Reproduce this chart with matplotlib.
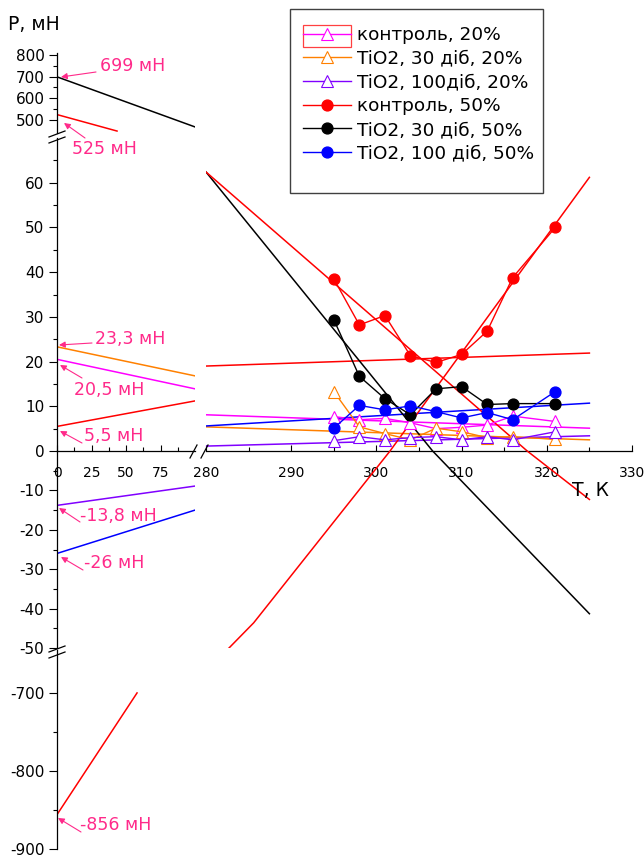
import numpy as np
import matplotlib
matplotlib.use('Agg')
import matplotlib.pyplot as plt
from matplotlib.lines import Line2D
from matplotlib.patches import Rectangle
from matplotlib.ticker import FixedLocator

plt.rcParams['font.family'] = ['DejaVu Sans']
plt.rcParams['axes.unicode_minus'] = False

# measured temperatures, K
T = [295, 298, 301, 304, 307, 310, 313, 316, 321]
p_ctrl_20 = [7.7, 7.0, 7.3, 6.3, 5.0, 5.3, 5.8, 7.8, 6.6]
p_tio30_20 = [13.3, 5.4, 3.9, 2.5, 5.1, 4.3, 3.0, 3.2, 2.6]
p_tio100_20 = [2.3, 3.2, 2.5, 3.0, 3.2, 2.5, 3.2, 2.5, 4.3]
p_ctrl_50 = [38.5, 28.2, 30.3, 21.3, 19.8, 21.6, 26.8, 38.8, 50.0]
p_tio30_50 = [29.4, 16.7, 11.7, 8.1, 13.9, 14.4, 10.4, 10.6, 10.6]
p_tio100_50 = [5.1, 10.2, 9.2, 10.1, 8.8, 7.4, 8.6, 7.0, 13.3]

labels = ['контроль, 20%', 'TiO2, 30 діб, 20%', 'TiO2, 100діб, 20%',
          'контроль, 50%', 'TiO2, 30 діб, 50%', 'TiO2, 100 діб, 50%']

# fitted lines, extrapolated part (T from 0)
fit_left = [
    ([0, 100], [23.3, 16.8], '#ff8000'),
    ([0, 100], [20.5, 13.9], '#ff00ff'),
    ([0, 100], [5.5, 11.2], '#ff0000'),
    ([0, 100], [-13.8, -8.9], '#8000ff'),
    ([0, 100], [-26.0, -15.0], '#0000ff'),
    ([0, 100], [699, 468], 'black'),
    ([0, 43.5], [525, 449], '#ff0000'),
    ([0, 58], [-856, -700], '#ff0000'),
]
# fitted lines, measured range
fit_right = [
    ([280, 325], [5.4, 2.5], '#ff8000'),
    ([280, 325], [8.1, 5.1], '#ff00ff'),
    ([280, 325], [19.0, 21.9], '#ff0000'),
    ([280, 325], [1.1, 3.4], '#8000ff'),
    ([280, 325], [5.6, 10.7], '#0000ff'),
    ([280, 306.6, 325], [62.4, 0, -41.3], 'black'),
    ([280, 317.7, 325], [62.4, 0, -12.3], '#ff0000'),
    ([282.7, 285.6, 301.6, 325], [-50, -43.6, 0, 61.2], '#ff0000'),
]

# intercept labels: text, text pos (px), arrow start (px), arrow tip (px)
notes = [
    ('699 мН', (100, 66), (96, 72), (61, 77)),
    ('525 мН', (72, 149), (85, 138), (64, 123)),
    ('23,3 мН', (95, 339), (92, 343), (59, 345)),
    ('20,5 мН', (74, 390), (82, 378), (60, 365)),
    ('5,5 мН', (84, 436), (82, 443), (60, 431)),
    ('-13,8 мН', (80, 516), (80, 522), (59, 508)),
    ('-26 мН', (84, 563), (83, 570), (61, 557)),
    ('-856 мН', (80, 825), (81, 832), (58, 818)),
]

pink = '#ff2a8a'
W, H = 644, 857
fig = plt.figure(figsize=(W / 100, H / 100), dpi=100)


def px_axes(x0, y0, x1, y1):
    ax = fig.add_axes([x0 / W, 1 - y1 / H, (x1 - x0) / W, (y1 - y0) / H])
    ax.set_facecolor('none')
    for s in ax.spines.values():
        s.set_visible(False)
    ax.tick_params(axis='y', labelsize=11)
    ax.tick_params(axis='x', labelsize=10)
    ax.tick_params(which='major', length=6, width=0.8)
    ax.tick_params(which='minor', length=3, width=0.8)
    return ax


def px_line(x0, y0, x1, y1, **kw):
    fig.add_artist(Line2D([x0 / W, x1 / W], [1 - y0 / H, 1 - y1 / H],
                          transform=fig.transFigure, color='black', lw=0.9, **kw))


def left_axis(ax, lo, hi, major, minor):
    ax.set_xlim(0, 100)
    ax.set_ylim(lo, hi)
    ax.spines['left'].set_visible(True)
    ax.spines['left'].set_linewidth(0.9)
    ax.yaxis.set_major_locator(FixedLocator(major))
    ax.yaxis.set_minor_locator(FixedLocator(minor))
    ax.tick_params(axis='y', which='both', direction='out', pad=3)
    ax.tick_params(axis='x', which='both', bottom=False, labelbottom=False)


ax_top = px_axes(57, 53, 195, 133)
left_axis(ax_top, 440, 809, [500, 600, 700, 800], [550, 650, 750])
ax_mid = px_axes(57, 138, 195, 451)
left_axis(ax_mid, 0, 70, list(range(0, 70, 10)), list(range(5, 70, 10)))
ax_neg = px_axes(57, 451, 195, 648)
left_axis(ax_neg, -50, 0, list(range(-50, 0, 10)), list(range(-45, 0, 10)))
ax_bot = px_axes(57, 650, 195, 849)
left_axis(ax_bot, -900, -645, [-900, -800, -700], [-850, -750])

ax_rmid = px_axes(206, 138, 632, 451)
ax_rmid.set_xlim(280, 330)
ax_rmid.set_ylim(0, 70)
ax_rneg = px_axes(206, 451, 632, 648)
ax_rneg.set_xlim(280, 330)
ax_rneg.set_ylim(-50, 0)
for ax in (ax_rmid, ax_rneg):
    ax.tick_params(axis='y', which='both', left=False, labelleft=False)
ax_rneg.tick_params(axis='x', which='both', bottom=False, labelbottom=False)

# x axis at P = 0
for ax, major, minor in ((ax_mid, [0, 25, 50, 75], [12.5, 37.5, 62.5, 87.5]),
                         (ax_rmid, list(range(280, 331, 10)), list(range(285, 330, 10)))):
    ax.spines['bottom'].set_visible(True)
    ax.spines['bottom'].set_linewidth(0.9)
    ax.xaxis.set_major_locator(FixedLocator(major))
    ax.xaxis.set_minor_locator(FixedLocator(minor))
    ax.tick_params(axis='x', which='both', direction='in', bottom=True,
                   labelbottom=True, pad=11)
    ax.tick_params(axis='x', which='major', length=4.5)
    ax.tick_params(axis='x', which='minor', length=3)

for ax in (ax_top, ax_mid, ax_neg, ax_bot):
    for xs, ys, c in fit_left:
        ax.plot(xs, ys, color=c, lw=1.1)

for ax in (ax_rmid, ax_rneg):
    for xs, ys, c in fit_right:
        ax.plot(xs, ys, color=c, lw=1.1)

handles = []
tri_series = [(p_ctrl_20, '#ff00ff'), (p_tio30_20, '#ff8000'), (p_tio100_20, '#8000ff')]
dot_series = [(p_ctrl_50, '#ff0000'), (p_tio30_50, 'black'), (p_tio100_50, '#0000ff')]
for ys, c in tri_series:
    h, = ax_rmid.plot(T, ys, color=c, lw=1.0, marker='^', ms=8.5,
                      mfc='white', mec=c, mew=0.8)
    handles.append(h)
for ys, c in dot_series:
    h, = ax_rmid.plot(T, ys, color=c, lw=1.0, marker='o', ms=7.8,
                      mfc=c, mec=c)
    handles.append(h)

# legend in a hand-placed frame
fig.add_artist(Rectangle((290 / W, 1 - 193 / H), 253 / W, 184 / H,
                         transform=fig.transFigure, fill=False,
                         edgecolor='#404040', lw=1.0))
fig.legend(handles, labels, loc='upper left',
           bbox_to_anchor=(303 / W, 1 - 26 / H), frameon=False,
           fontsize=13.3, handlelength=2.6, handletextpad=0.35,
           labelspacing=0.31, borderpad=0, borderaxespad=0)
fig.add_artist(Rectangle((303 / W, 1 - 47 / H), 48 / W, 22 / H,
                         transform=fig.transFigure, fill=False,
                         edgecolor='#ff4040', lw=0.9))

# axis break marks
px_line(49, 137, 65, 131)
px_line(49, 143, 65, 137)
px_line(49, 652, 65, 646)
px_line(49, 658, 65, 652)
px_line(190, 458, 197, 445)
px_line(201, 458, 208, 445)

fig.text(8 / W, 1 - 24 / H, 'P, мН', fontsize=13.5, va='center', ha='left')
fig.text(590 / W, 1 - 491 / H, 'T, К', fontsize=13.5, va='center', ha='center')

for txt, tpos, start, tip in notes:
    fig.text(tpos[0] / W, 1 - tpos[1] / H, txt, color=pink, fontsize=12.5,
             va='center', ha='left')
    ax_mid.annotate('', xy=(tip[0], H - tip[1]), xycoords='figure pixels',
                    xytext=(start[0], H - start[1]), textcoords='figure pixels',
                    annotation_clip=False,
                    arrowprops=dict(arrowstyle='-|>', color=pink, lw=0.8,
                                    mutation_scale=9, shrinkA=0, shrinkB=0))

fig.savefig('out.png', dpi=100)
